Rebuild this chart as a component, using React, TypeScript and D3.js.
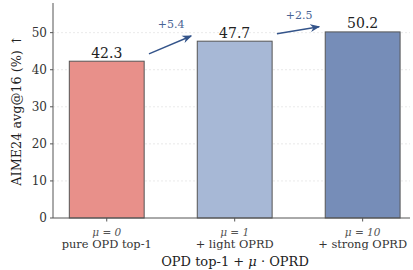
import React from "react"
import * as d3 from "d3"

const W = 413
const H = 270
const FONT = "'DejaVu Serif', serif"

const muLabels = ["\u03bc = 0", "\u03bc = 1", "\u03bc = 10"]
const categories = ["pure OPD top-1", "+ light OPRD", "+ strong OPRD"]
const scores = [42.3, 47.7, 50.2]
const barColors = ["#e8908a", "#a7b8d6", "#768db8"]
const gains = ["+5.4", "+2.5"]
const yTicks = [0, 10, 20, 30, 40, 50]

const App = () => {
  const x = d3.scaleLinear().domain([-0.42, 2.37]).range([53, 410])
  const y = d3.scaleLinear().domain([0, 58]).range([218, 3])
  const barW = 0.585

  return (
    <svg width={W} height={H} style={{ position: "absolute", left: 0, top: 0 }} fontFamily={FONT}>
      <defs>
        <marker id="head" viewBox="0 0 10 10" refX="9" refY="5" markerWidth="7" markerHeight="7" orient="auto">
          <path d="M0,1 L10,5 L0,9 L3,5 Z" fill="#34548a" />
        </marker>
      </defs>

      {/* grid */}
      {yTicks.slice(1).map(t => (
        <line key={t} x1={x(-0.42)} x2={x(2.37)} y1={y(t)} y2={y(t)}
          stroke="#e0e0e0" strokeWidth={0.7} strokeDasharray="2,2" />
      ))}

      {/* bars */}
      {scores.map((v, i) => (
        <g key={i}>
          <rect x={x(i - barW / 2)} y={y(v)} width={x(barW) - x(0)} height={y(0) - y(v)}
            fill={barColors[i]} stroke="#555" strokeWidth={1} />
          <text x={x(i)} y={y(v) - 3.5} textAnchor="middle" fontSize={14} fill="#222">{v.toFixed(1)}</text>
        </g>
      ))}

      {/* gain arrows */}
      {gains.map((g, i) => {
        const x0 = x(i + 0.33)
        const x1 = x(i + 0.66)
        const y0 = y(scores[i] + 2)
        const y1 = y(scores[i + 1] + 1.4)
        return (
          <g key={g}>
            <line x1={x0} y1={y0} x2={x1} y2={y1} stroke="#34548a" strokeWidth={1.4} markerEnd="url(#head)" />
            <text x={(x0 + x1) / 2 + 1} y={Math.min(y0, y1) - 8} textAnchor="middle" fontSize={11} fill="#4a6494">{g}</text>
          </g>
        )
      })}

      {/* axes */}
      <line x1={53} x2={53} y1={y(58)} y2={y(0)} stroke="#555" strokeWidth={1} />
      <line x1={53} x2={410} y1={y(0)} y2={y(0)} stroke="#555" strokeWidth={1} />
      {yTicks.map(t => (
        <g key={t}>
          <line x1={50} x2={53} y1={y(t)} y2={y(t)} stroke="#555" />
          <text x={47} y={y(t) + 4.2} textAnchor="end" fontSize={12} fill="#333">{t}</text>
        </g>
      ))}
      {categories.map((c, i) => (
        <g key={c}>
          <line x1={x(i)} x2={x(i)} y1={218} y2={221.5} stroke="#555" />
          <text x={x(i)} y={236} textAnchor="middle" fontSize={10.5} fontStyle="italic" fill="#555">{muLabels[i]}</text>
          <text x={x(i)} y={248} textAnchor="middle" fontSize={11.4} fill="#333">{c}</text>
        </g>
      ))}
      <text x={235} y={266} textAnchor="middle" fontSize={13} fill="#222">
        OPD top-1 + <tspan fontStyle="italic">{"\u03bc"}</tspan> {"\u00b7"} OPRD
      </text>
      <text transform={`translate(21,${y(29)}) rotate(-90)`} textAnchor="middle" fontSize={12.8} fill="#222">
        AIME24 avg@16 (%) {"\u2191"}
      </text>
    </svg>
  )
}

export default App
